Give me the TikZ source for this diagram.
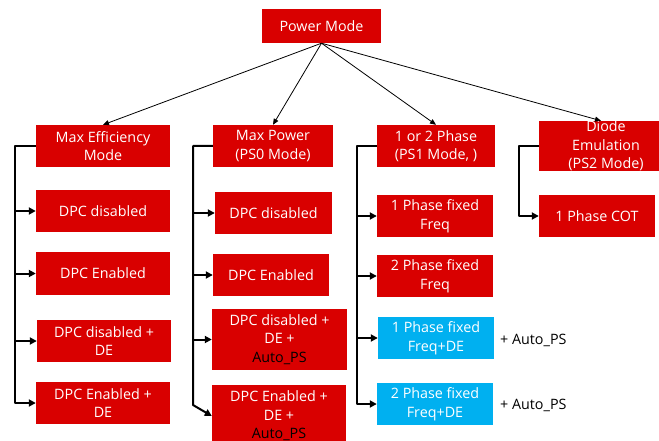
\documentclass[tikz,border=0pt]{standalone}
\usepackage{fontspec}
\setmainfont{Open Sans}
\usetikzlibrary{arrows.meta,calc}
\definecolor{boxred}{RGB}{217,0,0}
\definecolor{boxblue}{RGB}{0,176,240}
\tikzset{
  rbox/.style={fill=boxred, draw=none, inner sep=0pt, text=white, align=center,
    font=\fontsize{14.3}{18.5}\selectfont},
  bbox/.style={rbox, fill=boxblue},
  toparrow/.style={line width=0.8pt, -{Triangle[length=6pt,width=5pt]}},
  brk/.style={line width=2pt, line join=round},
  brkarrow/.style={brk, -{Triangle[length=7pt,width=7pt]}},
  plain/.style={font=\fontsize{14.3}{18.5}\selectfont, text=black, inner sep=0pt, anchor=west}
}
\begin{document}
\begin{tikzpicture}[x=1pt,y=-1pt]
\useasboundingbox (0,0) rectangle (659,441);
\fill[white] (0,0) rectangle (659,441);
\clip (0,0) rectangle (659,441);

% top
\node[rbox, minimum width=119pt, minimum height=34pt] (pm) at (321.5,26) {Power Mode};

% column 1
\node[rbox, minimum width=134pt, minimum height=42pt] (me) at (103,146) {Max Efficiency\\Mode};
\node[rbox, minimum width=134pt, minimum height=42pt] (e1) at (103,211) {DPC disabled};
\node[rbox, minimum width=134pt, minimum height=43pt] (e2) at (103,273.5) {DPC Enabled};
\node[rbox, minimum width=134pt, minimum height=42pt] (e3) at (104,341) {DPC disabled +\\DE};
\node[rbox, minimum width=134pt, minimum height=42pt] (e4) at (103,403) {DPC Enabled +\\DE};

% column 2
\node[rbox, minimum width=120pt, minimum height=42pt] (mp) at (273,146) {Max Power\\(PS0 Mode)};
\node[rbox, minimum width=117pt, minimum height=42pt] (p1) at (273.5,213) {DPC disabled};
\node[rbox, minimum width=116pt, minimum height=42pt] (p2) at (271,275) {DPC Enabled};
\node[rbox, minimum width=135pt, minimum height=61pt] (p3) at (279.5,339.5) {DPC disabled +\\DE +\\\textcolor{black}{Auto\_PS}};
\node[rbox, minimum width=134pt, minimum height=62pt] (p4) at (279,416) {DPC Enabled +\\DE +\\\textcolor{black}{Auto\_PS}};

% column 3
\node[rbox, minimum width=118pt, minimum height=42pt] (ph) at (436,146) {1 or 2 Phase\\(PS1 Mode, )};
\node[rbox, minimum width=116pt, minimum height=42pt] (q1) at (435,216) {1 Phase fixed\\Freq};
\node[rbox, minimum width=116pt, minimum height=42pt] (q2) at (435,276) {2 Phase fixed\\Freq};
\node[bbox, minimum width=116pt, minimum height=42pt] (q3) at (436,338) {1 Phase fixed\\Freq+DE};
\node[bbox, minimum width=116pt, minimum height=42pt] (q4) at (435,404) {2 Phase fixed\\Freq+DE};
\node[plain] (a1) at (500,340) {+ Auto\_PS};
\node[plain] (a2) at (500,405) {+ Auto\_PS};

% column 4
\node[rbox, minimum width=134pt, minimum height=42pt] (de) at (606,146) {Diode\\Emulation\\(PS2 Mode)};
\node[rbox, minimum width=116pt, minimum height=42pt] (cot) at (597,216) {1 Phase COT};

% top arrows
\draw[toparrow] (pm.south) -- (me.north);
\draw[toparrow] (pm.south) -- (mp.north);
\draw[toparrow] (pm.south) -- (ph.north);
\draw[toparrow] (pm.south) -- ($(de.north)+(-5,0)$);

% brackets
\coordinate (x1) at (15,0);
\coordinate (x2) at (193,0);
\coordinate (x3) at (357,0);
\coordinate (x4) at (519,0);
\coordinate (x2b) at (193,405);

\draw[brkarrow] (me.west) -- (me.west -| x1) |- (e4.west);
\draw[brkarrow] (e1.west -| x1) -- (e1.west);
\draw[brkarrow] (e2.west -| x1) -- (e2.west);
\draw[brkarrow] (e3.west -| x1) -- (e3.west);

\draw[brkarrow] (mp.west) -- (mp.west -| x2) -- (x2b) -- (p4.west);
\draw[brkarrow] (p1.west -| x2) -- (p1.west);
\draw[brkarrow] (p2.west -| x2) -- (p2.west);
\draw[brkarrow] (p3.west -| x2) -- (p3.west);

\draw[brkarrow] (ph.west) -- (ph.west -| x3) |- (q4.west);
\draw[brkarrow] (q1.west -| x3) -- (q1.west);
\draw[brkarrow] (q2.west -| x3) -- (q2.west);
\draw[brkarrow] (q3.west -| x3) -- (q3.west);

\draw[brkarrow] (de.west) -- (de.west -| x4) |- (cot.west);
\end{tikzpicture}
\end{document}
